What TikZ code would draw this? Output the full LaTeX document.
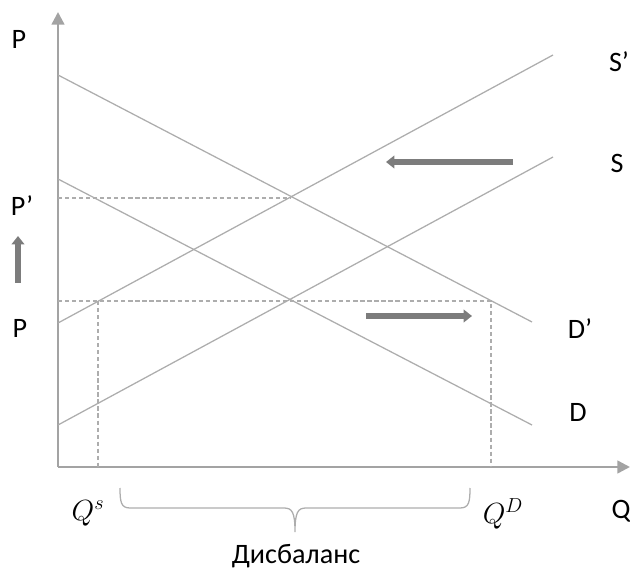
\documentclass[tikz,border=0pt]{standalone}
\usepackage{fontspec}
\setmainfont{Carlito}
\usetikzlibrary{arrows.meta}
\definecolor{axisGray}{HTML}{A3A3A3}
\definecolor{curveGray}{HTML}{ADADAD}
\definecolor{shiftGray}{HTML}{7C7C7C}

\begin{document}
\begin{tikzpicture}[x=0.025cm, y=-0.025cm, every node/.style={font=\fontsize{20}{24}\selectfont, inner sep=0pt}]
        \useasboundingbox (0,0) rectangle (630,576);

        % axes
        \coordinate (O) at (58,467);
        \coordinate (yTop) at (58,12);
        \coordinate (xEnd) at (630,467);
        \draw[axisGray, line width=1.7pt, -{Triangle[length=9pt,width=9pt]}] (O) -- (yTop);
        \draw[axisGray, line width=1.7pt, -{Triangle[length=9pt,width=9pt]}] (O) -- (xEnd);

        % demand and supply
        \coordinate (d1a) at (58,75);   \coordinate (d1b) at (532,322);
        \coordinate (d0a) at (58,179);  \coordinate (d0b) at (532,425);
        \coordinate (s1a) at (58,323);  \coordinate (s1b) at (553,55);
        \coordinate (s0a) at (58,425);  \coordinate (s0b) at (553,157);
        \draw[curveGray, line width=0.9pt] (d1a) -- (d1b);
        \draw[curveGray, line width=0.9pt] (d0a) -- (d0b);
        \draw[curveGray, line width=0.9pt] (s1a) -- (s1b);
        \draw[curveGray, line width=0.9pt] (s0a) -- (s0b);

        % price levels
        \coordinate (pNew) at (58,198);  \coordinate (eNew) at (291,198);
        \coordinate (pOld) at (58,301);  \coordinate (qS) at (98,301);  \coordinate (qD) at (491,301);
        \draw[curveGray, line width=0.8pt, dash pattern=on 3pt off 2pt] (pNew) -- (eNew);
        \draw[curveGray, line width=0.8pt, dash pattern=on 3pt off 2pt] (pOld) -- (qD) -- (qD |- O);
        \draw[curveGray, line width=0.8pt, dash pattern=on 3pt off 2pt] (qS) -- (qS |- O);

        % shifts
        \coordinate (aL1) at (513,162); \coordinate (aL2) at (386,162);
        \coordinate (aR1) at (366,316); \coordinate (aR2) at (472,316);
        \coordinate (aU1) at (18,283);  \coordinate (aU2) at (18,236);
        \draw[shiftGray, line width=3.6pt, -{Triangle[length=6pt,width=9pt]}] (aL1) -- (aL2);
        \draw[shiftGray, line width=3.6pt, -{Triangle[length=6pt,width=9pt]}] (aR1) -- (aR2);
        \draw[shiftGray, line width=3.6pt, -{Triangle[length=6pt,width=9pt]}] (aU1) -- (aU2);

        % labels
        \node (lblPTop) at (19,39) {P};
        \node (lblPNew) at (22,206) {P’};
        \node (lblPOld) at (20,328) {P};
        \node (lblS1) at (619,62) {S’};
        \node (lblS0) at (617,163) {S};
        \node (lblD1) at (580,329) {D’};
        \node (lblD0) at (578,412) {D};
        \node (lblQ) at (621,511) {Q};
        \node (lblQS) at (88,513) {$Q^s$};
        \node (lblQD) at (503,514) {$Q^D$};

        % gap
        \coordinate (braceL) at (120,488);
        \coordinate (braceTip) at (295,532);
        \coordinate (braceR) at (470,488);
        \draw[curveGray, line width=0.9pt] (braceL) .. controls (120,502) and (121,508) .. (130,508) -- (284,508)
            .. controls (292,508) and (295,512) .. (braceTip)
            .. controls (295,512) and (298,508) .. (306,508) -- (460,508)
            .. controls (469,508) and (470,502) .. (braceR);
        \node (lblGap) at (296,556) {Дисбаланс};
    \end{tikzpicture}
\end{document}
